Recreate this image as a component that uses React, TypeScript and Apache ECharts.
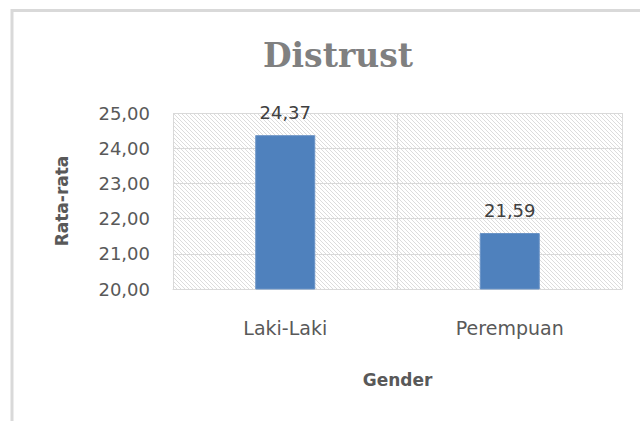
import React, { useEffect, useRef } from "react";
import * as echarts from "echarts";

const categories = ["Laki-Laki", "Perempuan"];
const values = [24.37, 21.59];
const yMin = 20;
const yMax = 25;
const yStep = 1;
const titleText = "Distrust";
const xName = "Gender";
const yName = "Rata-rata";

const fmt = (v: number) => v.toFixed(2).replace(".", ",");

function makeHatch(): string {
  const s = 4;
  const c = document.createElement("canvas");
  c.width = s;
  c.height = s;
  const ctx = c.getContext("2d")!;
  ctx.fillStyle = "#ffffff";
  ctx.fillRect(0, 0, s, s);
  ctx.fillStyle = "#dcdcdc";
  for (let i = 0; i < s; i++) ctx.fillRect(i, i, 1, 1);
  return c.toDataURL();
}

export default function App() {
  const ref = useRef<HTMLDivElement>(null);
  useEffect(() => {
    document.body.style.margin = "0";
    const chart = echarts.init(ref.current!, undefined, { renderer: "svg" });
    const hatch = makeHatch();
    const labelFont = "DejaVu Sans";
    chart.setOption({
      animation: false,
      backgroundColor: "#ffffff",
      title: {
        text: titleText,
        left: 333,
        top: 34,
        textAlign: "center",
        textStyle: {
          fontFamily: "DejaVu Serif",
          fontWeight: "bold",
          fontSize: 33,
          color: "#808080",
        },
      },
      graphic: [
        {
          type: "line",
          shape: { x1: 12, y1: 9, x2: 12, y2: 421 },
          style: { stroke: "#d9d9d9", lineWidth: 3 },
        },
        {
          type: "line",
          shape: { x1: 11, y1: 10.5, x2: 640, y2: 10.5 },
          style: { stroke: "#d9d9d9", lineWidth: 3 },
        },
      ],
      grid: {
        left: 173,
        top: 113,
        width: 449,
        height: 176,
        show: true,
        backgroundColor: { image: hatch, repeat: "repeat" },
        borderWidth: 0,
      },
      xAxis: {
        type: "category",
        data: categories,
        boundaryGap: true,
        name: xName,
        nameLocation: "middle",
        nameGap: 82,
        nameTextStyle: {
          fontFamily: labelFont,
          fontWeight: "bold",
          fontSize: 17,
          color: "#595959",
        },
        axisLine: { show: true, lineStyle: { color: "#d9d9d9", width: 1 } },
        axisTick: { show: false },
        splitLine: { show: true, lineStyle: { color: "#d9d9d9", width: 1 } },
        axisLabel: {
          margin: 29,
          fontFamily: labelFont,
          fontSize: 19,
          color: "#595959",
        },
      },
      yAxis: {
        type: "value",
        min: yMin,
        max: yMax,
        interval: yStep,
        name: yName,
        nameLocation: "middle",
        nameGap: 103,
        nameRotate: 90,
        nameTextStyle: {
          fontFamily: labelFont,
          fontWeight: "bold",
          fontSize: 17,
          color: "#595959",
        },
        axisLine: { show: false },
        axisTick: { show: false },
        splitLine: { show: true, lineStyle: { color: "#d9d9d9", width: 1 } },
        axisLabel: {
          margin: 23,
          fontFamily: labelFont,
          fontSize: 18,
          color: "#595959",
          formatter: (v: number) => fmt(v),
        },
      },
      series: [
        {
          type: "bar",
          data: values,
          barWidth: 60,
          itemStyle: { color: "#4f81bd", borderColor: "#6a93c6", borderWidth: 1 },
          label: {
            show: true,
            position: "top",
            distance: 14,
            fontFamily: labelFont,
            fontSize: 18,
            color: "#404040",
            formatter: (p: any) => fmt(p.value),
          },
        },
      ],
    });
    return () => chart.dispose();
  }, []);
  return (
    <div
      ref={ref}
      style={{ position: "absolute", left: 0, top: 0, width: 640, height: 421 }}
    />
  );
}
